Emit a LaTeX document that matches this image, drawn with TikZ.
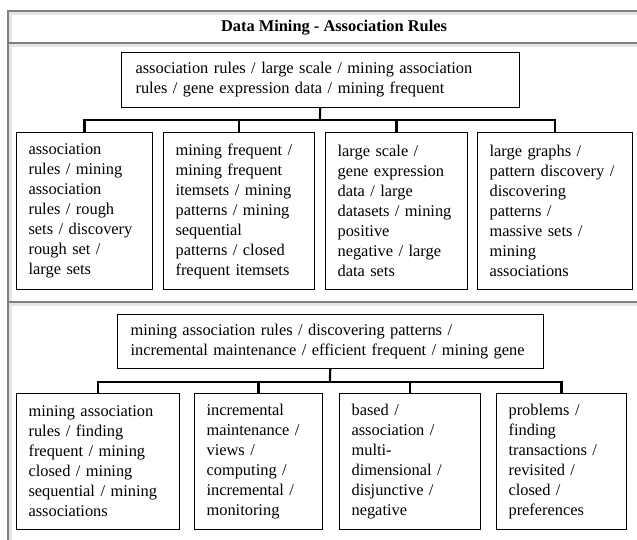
\documentclass[tikz,border=0pt]{standalone}
\usepackage{fontspec}
\setmainfont{Liberation Serif}

\begin{document}
\begin{tikzpicture}
		[x=1pt,y=-1pt,
		kw/.style= {draw=black,line width=1.1pt,anchor=north west,align=left,inner xsep=12pt,inner ysep=0pt,font=\fontsize{16.4pt}{20pt}\selectfont},
		tree/.style= {draw=black,line width=2.2pt,to path={|- (\tikztotarget)}},
		frame/.style= {draw=black!50,line width=1.6pt},
		shade/.style= {draw=black!10,line width=2.5pt}]

		\useasboundingbox (0,0) rectangle (637,540);

		% panel frame
		\draw[shade] (637,13.5) -| (10.5,540);
		\draw[shade] (10.5,45.5) -- (637,45.5);
		\draw[shade] (10.5,304.5) -- (637,304.5);
		\draw[frame] (637,11) -| (8,540);
		\draw[frame] (8,43) -- (637,43);
		\draw[frame] (8,302) -- (637,302);

		\node[font=\fontsize{16.4pt}{20pt}\selectfont\bfseries] (t0) at (334,28) {Data Mining - Association Rules};

		% first cluster
		\coordinate (j1) at (320,120);

		\node[kw,inner xsep=14pt,text width=370pt,minimum height=55pt] (p1) at (121,52) {association rules / large scale / mining association\\rules / gene expression data / mining frequent}
			edge [line width=2.2pt]	(j1)
		;

		\node[kw,text width=112pt,minimum height=157pt] (c11) at (16,132) {association\\rules / mining\\association\\rules / rough\\sets / discovery\\rough set /\\large sets}
			edge [tree]	(j1)
		;

		\node[kw,text width=127pt,minimum height=157pt] (c12) at (163,132) {mining frequent /\\mining frequent\\itemsets / mining\\patterns / mining\\sequential\\patterns / closed\\frequent itemsets}
			edge [tree]	(j1)
		;

		\node[kw,text width=118pt,minimum height=157pt] (c13) at (325,132) {large scale /\\gene expression\\data / large\\datasets / mining\\positive\\negative / large\\data sets}
			edge [tree]	(j1)
		;

		\node[kw,text width=131pt,minimum height=157pt] (c14) at (477,132) {large graphs /\\pattern discovery /\\discovering\\patterns /\\massive sets /\\mining\\associations}
			edge [tree]	(j1)
		;

		% second cluster
		\coordinate (j2) at (330,382);

		\node[kw,inner xsep=13pt,text width=400pt,minimum height=54pt] (p2) at (117,314) {mining association rules / discovering patterns /\\incremental maintenance / efficient frequent / mining gene}
			edge [line width=2.2pt]	(j2)
		;

		\node[kw,text width=139pt,minimum height=136pt] (c21) at (16,393) {mining association\\rules / finding\\frequent / mining\\closed / mining\\sequential / mining\\associations}
			edge [tree]	(j2)
		;

		\node[kw,text width=104pt,minimum height=136pt] (c22) at (194,393) {incremental\\maintenance /\\views /\\computing /\\incremental /\\monitoring}
			edge [tree]	(j2)
		;

		\node[kw,text width=117pt,minimum height=136pt] (c23) at (339,393) {based /\\association /\\multi-\\dimensional /\\disjunctive /\\negative}
			edge [tree]	(j2)
		;

		\node[kw,text width=106pt,minimum height=136pt] (c24) at (496,393) {problems /\\finding\\transactions /\\revisited /\\closed /\\preferences}
			edge [tree]	(j2)
		;

	\end{tikzpicture}
\end{document}
